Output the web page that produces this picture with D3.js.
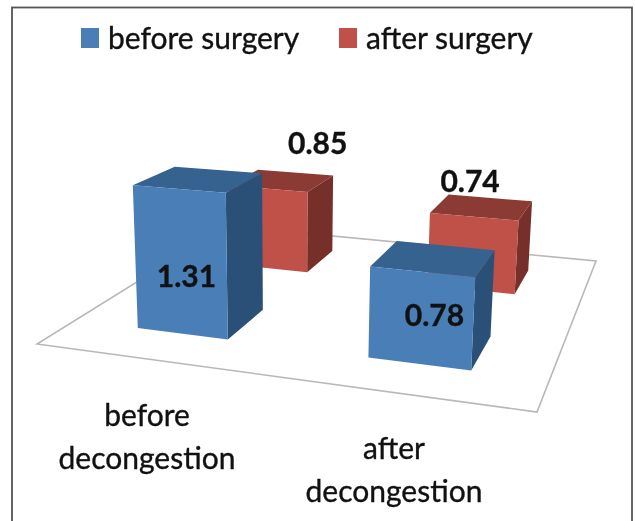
<!DOCTYPE html><html><head><meta charset="utf-8"><script src="https://cdn.jsdelivr.net/npm/d3@7"></script>
<style>html,body{margin:0;background:#fff}svg{display:block;filter:blur(0.6px)}text{font-family:Lato,"Open Sans",sans-serif;fill:#111;stroke:#111;stroke-width:.35px}</style></head><body><svg id="c" width="635" height="521"></svg><script>
const categories=[["before","decongestion"],["after","decongestion"]];
const categoryKeys=["before decongestion","after decongestion"];
const seriesNames=["before surgery","after surgery"];
const beforeSurgery=[1.31,0.78];
const afterSurgery=[0.85,0.74];
const seriesValues=[beforeSurgery,afterSurgery];
const seriesFront=["#4a7eb7","#bf5148"];
const seriesTop=["#36628f","#8c3b34"];
const seriesSide=["#2b5078","#772f2a"];

// floor of the 3D plot on screen: front-left, front-right, back-right, back-left
const floor=[[37,344],[537,412],[596,261],[227,226]];
const vanish=[287,4600];
const [p0,p1,p2,p3]=floor;
const dx1=p1[0]-p2[0],dx2=p3[0]-p2[0],sx=p0[0]-p1[0]+p2[0]-p3[0],dy1=p1[1]-p2[1],dy2=p3[1]-p2[1],sy=p0[1]-p1[1]+p2[1]-p3[1];
const D=dx1*dy2-dx2*dy1,G=(sx*dy2-dx2*sy)/D,H=(dx1*sy-sx*dy1)/D;
const A=p1[0]-p0[0]+G*p1[0],B=p3[0]-p0[0]+H*p3[0],E=p1[1]-p0[1]+G*p1[1],F=p3[1]-p0[1]+H*p3[1];
const uScale=d3.scaleBand().domain(categoryKeys).range([0,1]).paddingInner(.594).paddingOuter(.294);
const vScale=d3.scaleBand().domain(seriesNames).range([0.005,1.01]).paddingInner(.6).paddingOuter(.3);
const hScale=d3.scaleLinear().domain([0,1.5]).range([0,170]);
function project(u,v,val){
  const w=G*u+H*v+1,x=(A*u+B*v+p0[0])/w,y=(E*u+F*v+p0[1])/w;
  const len=Math.hypot(vanish[0]-x,vanish[1]-y),t=hScale(val)/w/len;
  return [x+(x-vanish[0])*t,y+(y-vanish[1])*t];
}
const poly=a=>"M"+a.map(p=>p.join(",")).join("L")+"Z";
const s=d3.select("#c");
s.append("rect").attr("x",12).attr("y",7.5).attr("width",620).attr("height",530).attr("fill","#fff").attr("stroke","#555").attr("stroke-width",1.8);

// floor
s.append("path").attr("d",poly(floor)).attr("fill","#fff").attr("stroke","#b8b8b8").attr("stroke-width",1.6);

// bars, back to front
const bars=[];
seriesNames.forEach((sn,si)=>categoryKeys.forEach((ck,ci)=>bars.push({si,ci,sn,ck,val:seriesValues[si][ci]})));
bars.sort((a,b)=>b.si-a.si||a.ci-b.ci);
const bw=uScale.bandwidth(),bd=vScale.bandwidth();
const g=s.selectAll("g.bar").data(bars).join("g").attr("class","bar");
g.each(function(r){
  const u0=uScale(r.ck),u1=u0+bw,v0=vScale(r.sn),v1=v0+bd,sel=d3.select(this);
  sel.append("path").attr("d",poly([project(u1,v0,0),project(u1,v1,0),project(u1,v1,r.val),project(u1,v0,r.val)])).attr("fill",seriesSide[r.si]);
  sel.append("path").attr("d",poly([project(u0,v0,r.val),project(u1,v0,r.val),project(u1,v1,r.val),project(u0,v1,r.val)])).attr("fill",seriesTop[r.si]);
  sel.append("path").attr("d",poly([project(u0,v0,0),project(u1,v0,0),project(u1,v0,r.val),project(u0,v0,r.val)])).attr("fill",seriesFront[r.si]);
});

// data labels, offset from the bar's projected front face (blue) or top (red)
bars.forEach(r=>{
  const uc=uScale(r.ck)+bw/2,vc=vScale(r.sn)+bd/2;
  const q=r.si===0?project(uc,vScale(r.sn),r.val/2):project(uc,vc,r.val);
  const off=r.si===0?(r.ci===0?[6,26]:[14,8]):(r.ci===0?[36,-26]:[-12,-15]);
  s.append("text").attr("x",q[0]+off[0]).attr("y",q[1]+off[1]).attr("text-anchor","middle").attr("font-size",30).attr("font-weight",700).text(r.val.toFixed(2));
});

// legend
const legendX=[[81,108],[339,366]];
seriesNames.forEach((n,i)=>{
  s.append("rect").attr("x",legendX[i][0]).attr("y",28).attr("width",18).attr("height",20).attr("fill",seriesFront[i]);
  s.append("text").attr("x",legendX[i][1]).attr("y",49).attr("font-size",30).text(n);
});

// category labels
const catPos=[[147,426],[394,459]];
categories.forEach((lines,i)=>lines.forEach((t,j)=>{
  s.append("text").attr("x",catPos[i][0]).attr("y",catPos[i][1]+j*42.5).attr("text-anchor","middle").attr("font-size",30).text(t);
}));
</script></body></html>
